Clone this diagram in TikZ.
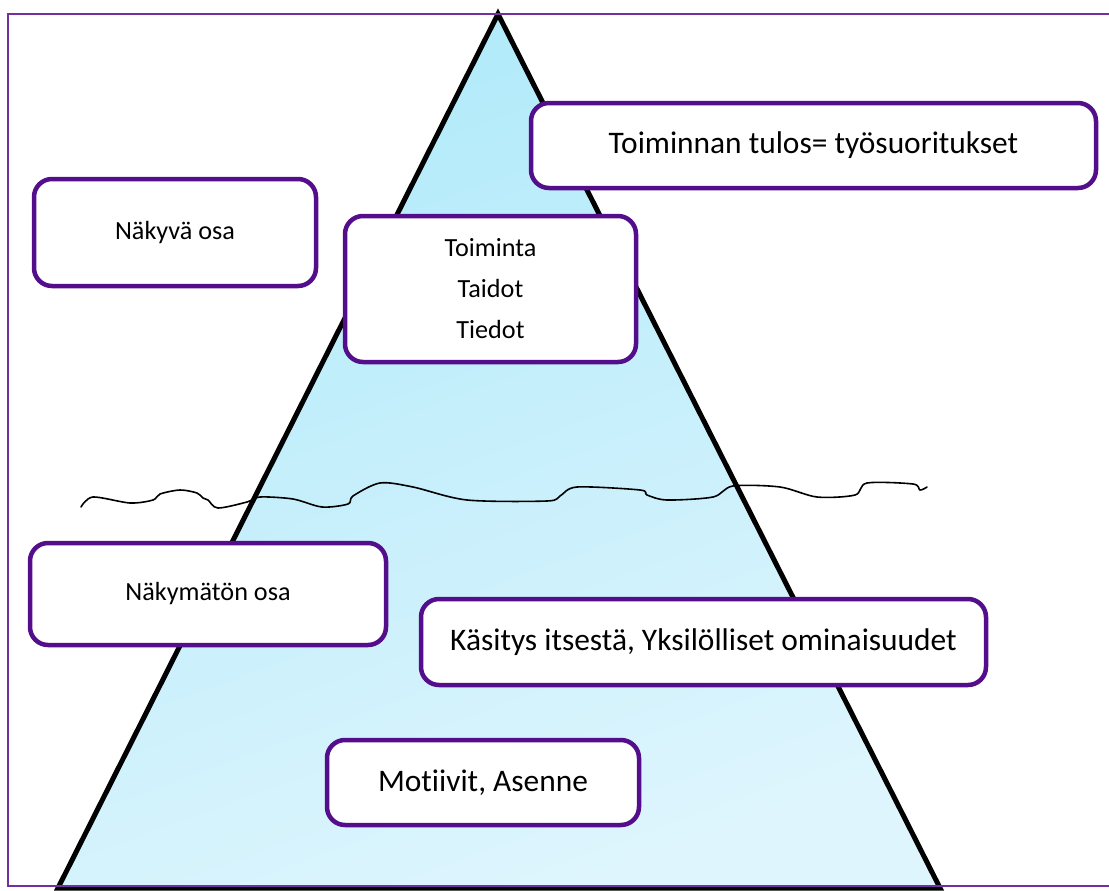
\documentclass[tikz,border=0pt]{standalone}
\usepackage{fontspec}
\setmainfont{Carlito}[Ligatures={NoCommon}]
\definecolor{boxpurple}{RGB}{84,14,140}
\definecolor{framepurple}{RGB}{112,48,160}
\definecolor{icetop}{RGB}{176,234,250}
\definecolor{icebot}{RGB}{222,245,253}
\tikzset{
  box/.style={draw=boxpurple, line width=4.5pt, rounded corners=18pt, fill=white, inner sep=0pt, align=center, text=black},
  smalltext/.style={font=\fontsize{26.2}{41}\selectfont},
  bigtext/.style={font=\fontsize{31.4}{38}\selectfont},
  iceline/.style={line width=5pt, black, line join=miter},
  frameline/.style={draw=framepurple, line width=1.6pt},
  waterline/.style={black, line width=1.6pt, line cap=round}
}
\begin{document}
\begin{tikzpicture}[x=1pt,y=-1pt]
\useasboundingbox (0,0) rectangle (1109,891);
% pyramid
\coordinate (apex) at (498,14);
\coordinate (bl) at (58,888);
\coordinate (br) at (940,888);
\shade[top color=icetop, bottom color=icebot, shading angle=20] (apex) -- (bl) -- (br) -- cycle;
% water line
\draw[waterline] plot[smooth, tension=0.5] coordinates {
 (81,507) (93,497) (130,503) (153,500) (160,494) (180,490) (197,493) (203,498)
 (208,500) (218,508) (247,502) (260,497) (293,499) (322,507) (348,504) (353,496)
 (380,483) (413,487) (467,500) (547,501) (560,496) (577,487) (640,490) (647,495)
 (667,500) (713,497) (733,486) (780,487) (817,497) (855,495) (867,483) (913,484)
 (920,490) (927,487)};
\draw[iceline] (apex) -- (bl) -- (br) -- cycle;
% boxes
\node[box, bigtext, minimum width=565pt, minimum height=85pt] (tulos) at (813.5,145.5) {Toiminnan tulos= työsuoritukset};
\node[box, smalltext, minimum width=282pt, minimum height=107pt] (nakyva) at (175,232.5) {Näkyvä osa};
\node[box, smalltext, minimum width=291pt, minimum height=146pt] (toiminta) at (490.5,289) {Toiminta\\Taidot\\Tiedot};
\node[box, smalltext, minimum width=356pt, minimum height=102pt] (nakymaton) at (208,594) {Näkymätön osa};
\node[box, bigtext, minimum width=565pt, minimum height=86pt] (kasitys) at (703.5,642) {Käsitys itsestä, Yksilölliset ominaisuudet};
\node[box, bigtext, minimum width=312pt, minimum height=85pt] (motiivit) at (483,782.5) {Motiivit, Asenne};
% frame
\draw[frameline] (1109,14) -- (8,14) -- (8,886) -- (1109,886);
\end{tikzpicture}
\end{document}
